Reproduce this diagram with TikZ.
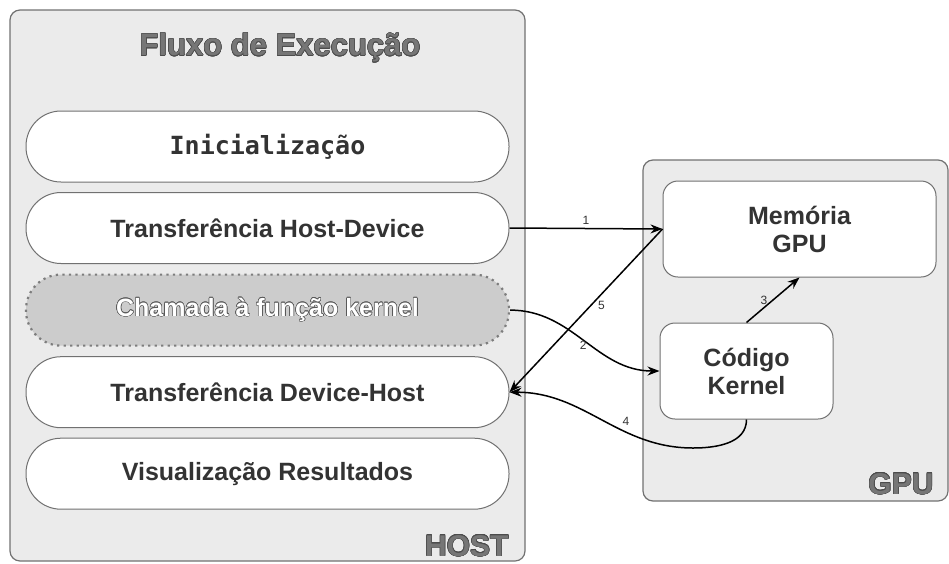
\documentclass[tikz,border=0pt]{standalone}
\usepackage{fontspec}
\setmainfont{Liberation Sans}
\newfontfamily\monofont{DejaVu Sans Mono}
\usepackage[copies]{contour}
\contourlength{0.55pt}
\usetikzlibrary{positioning,arrows.meta}

\definecolor{areafill}{HTML}{EBEBEB}
\definecolor{linha}{HTML}{717171}
\definecolor{escuro}{HTML}{333333}
\definecolor{chamfill}{HTML}{CCCCCC}
\definecolor{pontos}{HTML}{7D7D7D}
\definecolor{cinza}{HTML}{767676}

\tikzset{
	area/.style={draw=linha, line width=1.2pt, fill=areafill, rounded corners=10pt},
	etapa/.style={draw=linha, line width=1pt, fill=white, rounded corners=35pt,
		minimum width=483pt, minimum height=71pt, inner sep=0pt,
		text=escuro, font=\bfseries\fontsize{25}{28}\selectfont},
	bloco/.style={draw=linha, line width=1pt, fill=white, rounded corners=15pt,
		inner sep=0pt, align=center, text=escuro,
		font=\bfseries\fontsize{25}{28}\selectfont},
	rotulo/.style={text=cinza, font=\bfseries\fontsize{30}{32}\selectfont},
	seta/.style={line width=1.5pt, -{Stealth[length=12pt,width=9pt]}},
	num/.style={text=escuro, inner sep=1pt, font=\fontsize{12}{14}\selectfont}
}

\begin{document}
\begin{tikzpicture}[x=1pt,y=-1pt]
		\useasboundingbox (0,0) rectangle (949,563);
		
		% caixas HOST e GPU
		\draw[area] (10,10) rectangle (525,561);
		\draw[area] (643,160) rectangle (948,501);
		
		\node[rotulo, font=\bfseries\fontsize{31}{33}\selectfont] (titulo) at (280,48) {\contour{black!70}{Fluxo de Execução}};
		
		% etapas do host
		\node[etapa, font=\monofont\bfseries\fontsize{25}{28}\selectfont] (ini) at (267.5,146.5) {Inicialização};
		\node[etapa, below=9.5pt of ini] (htd) {Transferência Host-Device};
		\node[etapa, below=9.5pt of htd, fill=chamfill, draw=pontos, line width=2.2pt,
			dash pattern=on 2.2pt off 4.3pt, text=white] (cham) {\contour{black!65}{Chamada à função kernel}};
		\node[etapa, below=9.5pt of cham] (dth) {Transferência Device-Host};
		\node[etapa, below=9.5pt of dth] (vis) {Visualização Resultados};
		
		% blocos da GPU
		\node[bloco, minimum width=273pt, minimum height=96pt] (mem) at (799.5,229) {Memória\\GPU};
		\node[bloco, minimum width=173pt, minimum height=96pt] (kern) at (746.5,371) {Código\\Kernel};
		
		\node[rotulo, anchor=base east] (host) at (512,556) {\contour{black!70}{HOST}};
		\node[rotulo, anchor=base east] (gpu) at (937,494) {\contour{black!70}{GPU}};
		
		\coordinate (volta) at (693,448);
		
		\draw[seta] (htd.east) -- node[num, above=2pt] {1} (mem.west);
		\draw[seta] (cham.east) to[out=0,in=180] node[num, pos=0.55, left=3pt] {2} (kern.west);
		\draw[seta] (kern.north) -- node[num, pos=0.5, left=4pt] {3} (mem.south);
		\draw[seta] (kern.south) to[out=-90,in=0] (volta)
			to[out=180,in=0] node[num, pos=0.35, above=5pt] {4} (dth.east);
		\draw[seta] (mem.west) -- node[num, pos=0.42, below right=2pt and -2pt] {5} (dth.east);
\end{tikzpicture}
\end{document}
